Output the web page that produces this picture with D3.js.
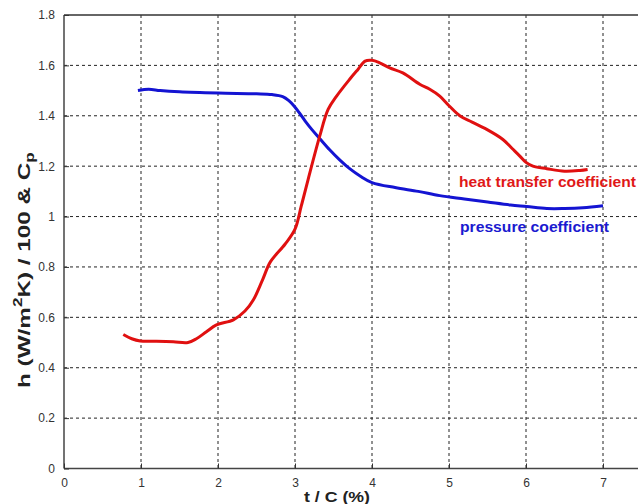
<!DOCTYPE html>
<html><head><meta charset="utf-8">
<script src="https://cdn.jsdelivr.net/npm/d3@7"></script>
<style>body{margin:0;background:#fff;} text{font-family:Arial,"Liberation Sans",sans-serif;}</style>
</head><body>
<svg id="c" width="638" height="504"></svg>
<script>
const xTicks = [0,1,2,3,4,5,6,7];
const yTicks = [0,0.2,0.4,0.6,0.8,1,1.2,1.4,1.6,1.8];
const yTickLabels = ["0","0.2","0.4","0.6","0.8","1","1.2","1.4","1.6","1.8"];

const pressureT = [0.96,1.1,1.25,1.5,2.0,2.5,2.7,2.84,2.92,2.99,3.06,3.13,3.22,3.32,3.45,3.58,3.71,3.85,4.0,4.3,4.6,4.88,5.2,5.5,5.8,6.01,6.27,6.5,6.74,7.0];
const pressureV = [1.50,1.505,1.50,1.495,1.49,1.487,1.484,1.476,1.46,1.438,1.41,1.38,1.345,1.31,1.265,1.225,1.19,1.16,1.135,1.115,1.10,1.083,1.07,1.058,1.046,1.04,1.032,1.032,1.035,1.043];

const heatT = [0.77,0.88,0.99,1.2,1.42,1.61,1.72,1.85,1.98,2.2,2.35,2.46,2.58,2.68,2.87,3.0,3.08,3.17,3.32,3.43,3.54,3.71,3.82,3.91,4.0,4.1,4.23,4.4,4.62,4.75,4.88,5.0,5.14,5.3,5.49,5.7,5.82,5.92,6.0,6.09,6.27,6.5,6.7,6.8];
const heatV = [0.532,0.515,0.506,0.505,0.503,0.5,0.515,0.543,0.57,0.59,0.625,0.67,0.75,0.82,0.89,0.95,1.04,1.147,1.318,1.425,1.478,1.545,1.585,1.617,1.62,1.61,1.59,1.57,1.525,1.505,1.478,1.44,1.40,1.375,1.346,1.306,1.27,1.24,1.215,1.20,1.19,1.18,1.183,1.187];

const svg = d3.select("#c");
const L = 64, T = 15, B = 468.5, R = 680;
const x = d3.scaleLinear().domain([0,7]).range([L, 603]);
const y = d3.scaleLinear().domain([0,1.8]).range([B, T]);

// grid
svg.append("g").selectAll("line").data(xTicks.slice(1)).join("line")
  .attr("x1",d=>x(d)).attr("x2",d=>x(d)).attr("y1",T).attr("y2",B)
  .attr("stroke","#222").attr("stroke-width",1).attr("stroke-dasharray","3,3");
svg.append("g").selectAll("line").data(yTicks.slice(1,-1)).join("line")
  .attr("x1",L).attr("x2",R).attr("y1",d=>y(d)).attr("y2",d=>y(d))
  .attr("stroke","#222").attr("stroke-width",1).attr("stroke-dasharray","3,3");

// frame
svg.append("line").attr("x1",L).attr("x2",R).attr("y1",T).attr("y2",T).attr("stroke","#333").attr("stroke-width",1.5);
svg.append("line").attr("x1",L).attr("x2",R).attr("y1",B).attr("y2",B).attr("stroke","#444").attr("stroke-width",1.5);
svg.append("line").attr("x1",L).attr("x2",L).attr("y1",T).attr("y2",B).attr("stroke","#444").attr("stroke-width",1.5);

// axes with inward ticks
const xAxis = d3.axisBottom(x).tickValues(xTicks).tickSizeInner(-5).tickSizeOuter(0).tickPadding(10).tickFormat(d3.format("d"));
const gx = svg.append("g").attr("transform",`translate(0,${B})`).call(xAxis);
gx.select(".domain").remove();
gx.selectAll("line").attr("stroke","#333");
gx.selectAll("text").attr("font-size",12).attr("fill","#333");

const yAxis = d3.axisLeft(y).tickValues(yTicks).tickSizeInner(-5).tickSizeOuter(0).tickPadding(9).tickFormat((d,i)=>yTickLabels[i]);
const gy = svg.append("g").attr("transform",`translate(${L},0)`).call(yAxis);
gy.select(".domain").remove();
gy.selectAll("line").attr("stroke","#333");
gy.selectAll("text").attr("font-size",12).attr("fill","#333");

// lines
const line = d3.line().x(d=>x(d[0])).y(d=>y(d[1])).curve(d3.curveCatmullRom.alpha(0.5));
svg.append("path").datum(pressureT.map((t,i)=>[t,pressureV[i]]))
  .attr("d",line).attr("fill","none").attr("stroke","#1414d2").attr("stroke-width",3).attr("stroke-linejoin","round");
svg.append("path").datum(heatT.map((t,i)=>[t,heatV[i]]))
  .attr("d",line).attr("fill","none").attr("stroke","#e01010").attr("stroke-width",3).attr("stroke-linejoin","round");

// labels
svg.append("text").attr("x",459).attr("y",187).attr("font-size",15.5).attr("font-weight","bold").attr("fill","#e01818")
  .attr("textLength",177).attr("lengthAdjust","spacingAndGlyphs").text("heat transfer coefficient");
svg.append("text").attr("x",460).attr("y",232).attr("font-size",15.5).attr("font-weight","bold").attr("fill","#1a1ad0")
  .attr("textLength",149).attr("lengthAdjust","spacingAndGlyphs").text("pressure coefficient");

svg.append("text").attr("x",337).attr("y",502).attr("text-anchor","middle").attr("font-size",15).attr("font-weight","bold").attr("fill","#222")
  .attr("textLength",66).attr("lengthAdjust","spacingAndGlyphs").text("t / C (%)");

const yl = svg.append("text").attr("transform","translate(30,388) rotate(-90)").attr("text-anchor","start")
  .attr("font-size",17).attr("font-weight","bold").attr("fill","#222");
yl.append("tspan").text("h (W/m");
yl.append("tspan").attr("dy",-8).attr("font-size",12).text("2");
yl.append("tspan").attr("dy",8).text("K) / 100 & C");
yl.append("tspan").attr("dy",4).attr("font-size",12).text("p");
const bb = yl.node().getBBox();
yl.attr("transform",`translate(30,388) rotate(-90) scale(${236/bb.width},1)`);
</script>
</body></html>
